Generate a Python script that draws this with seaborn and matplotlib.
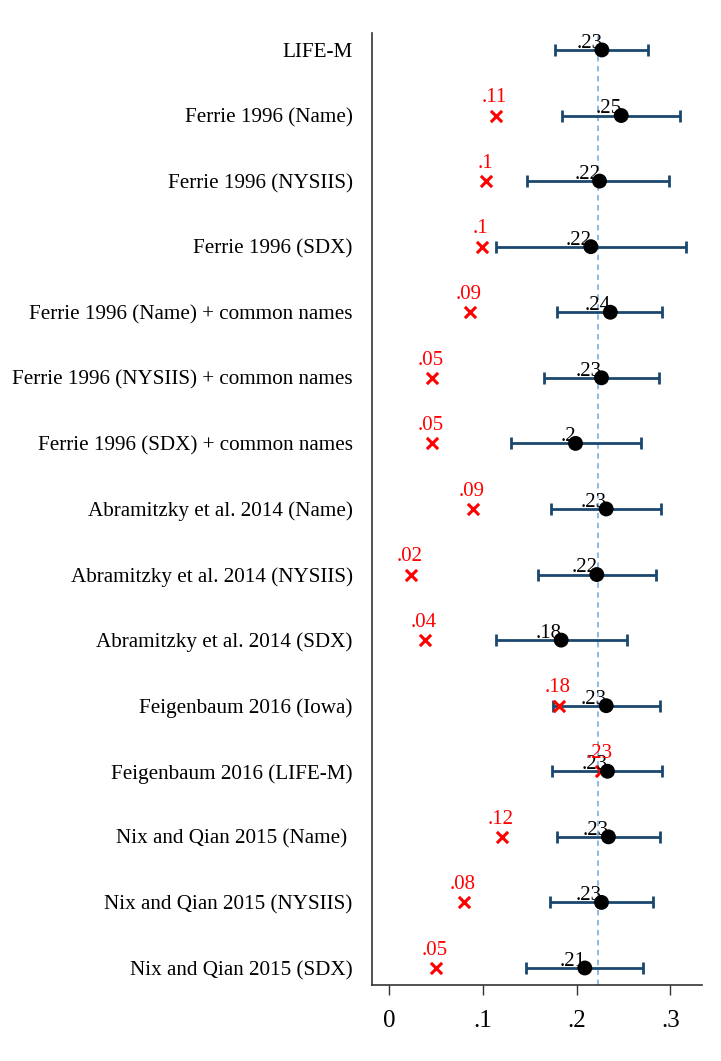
import numpy as np
import pandas as pd
import seaborn as sns
import matplotlib.pyplot as plt

labels = ["LIFE-M", "Ferrie 1996 (Name)", "Ferrie 1996 (NYSIIS)", "Ferrie 1996 (SDX)",
          "Ferrie 1996 (Name) + common names", "Ferrie 1996 (NYSIIS) + common names",
          "Ferrie 1996 (SDX) + common names", "Abramitzky et al. 2014 (Name)",
          "Abramitzky et al. 2014 (NYSIIS)", "Abramitzky et al. 2014 (SDX)",
          "Feigenbaum 2016 (Iowa)", "Feigenbaum 2016 (LIFE-M)", "Nix and Qian 2015 (Name) ",
          "Nix and Qian 2015 (NYSIIS)", "Nix and Qian 2015 (SDX)"]
est = [0.227, 0.2476, 0.2245, 0.2152, 0.236, 0.2266, 0.1989, 0.2316,
       0.2216, 0.1836, 0.2316, 0.233, 0.234, 0.2266, 0.2088]
lo = [0.1765, 0.1846, 0.147, 0.1146, 0.179, 0.1658, 0.130, 0.1729,
      0.1594, 0.1142, 0.1754, 0.1736, 0.179, 0.1718, 0.1462]
hi = [0.276, 0.3106, 0.299, 0.3166, 0.291, 0.2874, 0.269, 0.290,
      0.2846, 0.2537, 0.2892, 0.291, 0.2892, 0.282, 0.2707]
orig = [np.nan, 0.1139, 0.104, 0.0989, 0.086, 0.046, 0.046, 0.0893,
        0.0231, 0.0388, 0.1818, 0.226, 0.121, 0.080, 0.0498]
ref_line = 0.2225

df = pd.DataFrame({"label": labels, "est": est, "lo": lo, "hi": hi, "orig": orig})
df["row"] = np.arange(len(df))


def stata_fmt(v):
    s = f"{v:.2f}".rstrip("0")
    if s.startswith("0"):
        s = s[1:]
    return s


sns.set_style("white")
plt.rcParams["font.family"] = ["Liberation Serif", "DejaVu Serif"]
plt.rcParams["text.color"] = "black"
plt.rcParams["xtick.color"] = "black"
plt.rcParams["ytick.color"] = "black"

fig = plt.figure(figsize=(7.21, 10.61), dpi=100)
ax = fig.add_axes([0.516, 0.0716, 0.458, 0.8974])

navy = "#1a476f"
ax.axvline(ref_line, color="#86b4e0", lw=1.3, ls=(0, (3, 2.5)), zorder=1)
ax.errorbar(df["est"], df["row"], xerr=[df["est"] - df["lo"], df["hi"] - df["est"]],
            fmt="none", ecolor=navy, elinewidth=2, capsize=4.5, capthick=2, zorder=2)
sns.scatterplot(data=df, x="est", y="row", ax=ax, color="black", s=115,
                edgecolor="none", zorder=4)
sns.scatterplot(data=df.dropna(), x="orig", y="row", ax=ax, color="red", marker="x",
                s=65, linewidth=2.2, zorder=3)

for _, r in df.iterrows():
    ax.annotate(stata_fmt(r["est"]), (r["est"], r["row"]), xytext=(0.5, 1.5),
                textcoords="offset points", ha="right", va="baseline",
                fontsize=15, color="black", zorder=5)
    if not np.isnan(r["orig"]):
        ax.annotate(stata_fmt(r["orig"]), (r["orig"], r["row"]), xytext=(-1, 9.5),
                    textcoords="offset points", ha="center", va="baseline",
                    fontsize=15, color="red", zorder=5)

ax.set_xlim(-0.018, 0.334)
ax.set_ylim(len(df) - 1 + 0.26, -0.26)
ax.set_yticks(df["row"])
ax.set_yticklabels(df["label"], fontsize=15.2)
ax.set_xticks([0, 0.1, 0.2, 0.3])
ax.set_xticklabels(["0", ".1", ".2", ".3"], fontsize=18)
ax.tick_params(axis="y", length=0, pad=14)
ax.tick_params(axis="x", length=7, width=1, color="#333333", pad=11, bottom=True)
ax.set_xlabel("")
ax.set_ylabel("")
sns.despine(ax=ax)
for sp in ["left", "bottom"]:
    ax.spines[sp].set_color("#333333")
    ax.spines[sp].set_linewidth(1.2)

fig.savefig("out.png", dpi=100)
